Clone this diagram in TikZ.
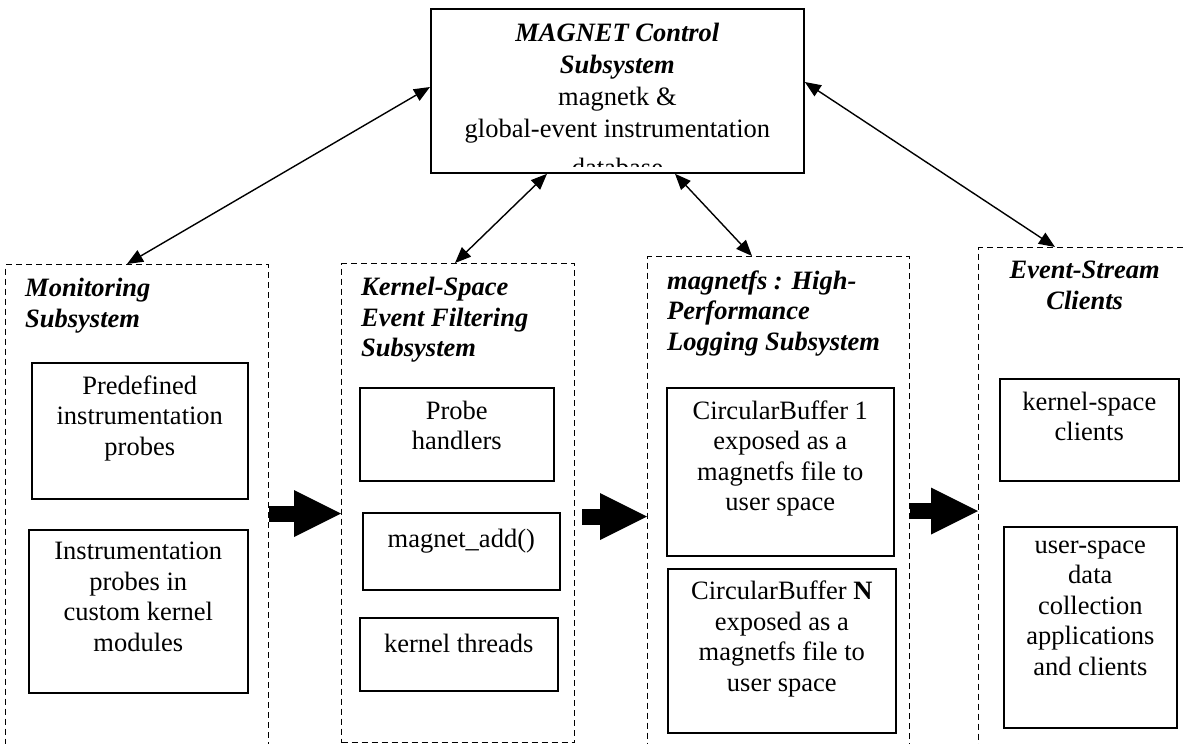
\documentclass[tikz,border=0pt]{standalone}
\usepackage{fontspec}
\setmainfont{Liberation Serif}
\usetikzlibrary{positioning,arrows.meta}
\newcommand{\bodyfont}{\fontsize{26.5}{30.5}\selectfont}
\newcommand{\ctrlfont}{\fontsize{26.5}{32.2}\selectfont}
\newcommand{\bi}[1]{\textbf{\textit{#1}}}
\tikzset{
  group/.style={draw, line width=1.3pt, dash pattern=on 6pt off 4pt, anchor=north west, inner sep=0pt},
  ibox/.style={draw, line width=1.6pt, anchor=north west, inner sep=0pt},
  itext/.style={font=\bodyfont, align=center, inner sep=0pt, anchor=north, execute at begin node=\strut},
  gtitle/.style={font=\bodyfont\bfseries\itshape, align=left, inner sep=0pt, execute at begin node=\strut},
  link/.style={line width=1.4pt, {Triangle[length=16pt,width=13pt]}-{Triangle[length=16pt,width=13pt]}},
  flow/.style={line width=16pt, -{Triangle[length=47pt,width=47pt,line width=0pt]}}
}
\begin{document}
\begin{tikzpicture}[x=1pt,y=-1pt]
  \clip (0,0) rectangle (1186,744);

  % control box on top
  \node[ibox, line width=1.8pt, minimum width=373pt, minimum height=164pt] (ctrl) at (430,8) {};
  \begin{scope}
    \clip (ctrl.north west) rectangle ([yshift=7pt]ctrl.south east);
    \node[itext, font=\ctrlfont, below=14.5pt of ctrl.north] (ctrltxt)
      {\bi{MAGNET Control}\\\bi{Subsystem}\\magnetk \&\\global-event instrumentation\\[7pt]database};
  \end{scope}

  % the four subsystems
  \node[group, minimum width=263pt, minimum height=560pt] (mon) at (5,264) {};
  \node[group, minimum width=233pt, minimum height=479pt] (kern) at (341,263) {};
  \node[group, minimum width=262pt, minimum height=560pt] (logfs) at (647,256) {};
  \node[group, minimum width=212pt, minimum height=560pt] (clients) at (978,247) {};

  \node[gtitle, below right=14.2pt and 20pt of mon.north west] (montitle) {Monitoring\\Subsystem};
  \node[gtitle, below right=14.2pt and 20pt of kern.north west] (kerntitle) {Kernel-Space\\Event Filtering\\Subsystem};
  \node[gtitle, below right=14.2pt and 20pt of logfs.north west] (logfstitle) {magnetfs : High-\\Performance\\Logging Subsystem};
  \node[gtitle, align=center, below=14.2pt of clients.north] (clientstitle) {Event-Stream\\Clients};

  % monitoring
  \node[ibox, minimum width=216pt, minimum height=136pt] (pre) at (31,362) {};
  \node[itext, below=13.6pt of pre.north] (pretxt) {Predefined\\instrumentation\\probes};
  \node[ibox, minimum width=219pt, minimum height=163pt] (custom) at (28,529) {};
  \node[itext, below=12.8pt of custom.north] (customtxt) {Instrumentation\\probes in\\custom kernel\\modules};

  % filtering
  \node[ibox, minimum width=194pt, minimum height=93pt] (handlers) at (359,387) {};
  \node[itext, below=13.6pt of handlers.north] (handlerstxt) {Probe\\handlers};
  \node[ibox, minimum width=197pt, minimum height=77pt] (add) at (362,512) {};
  \node[itext, below=14.4pt of add.north] (addtxt) {magnet\_add()};
  \node[ibox, minimum width=198pt, minimum height=73pt] (threads) at (359,617) {};
  \node[itext, below=13.6pt of threads.north] (threadstxt) {kernel threads};

  % logging
  \node[ibox, minimum width=227pt, minimum height=168pt] (buf1) at (666,387) {};
  \node[itext, below=13.6pt of buf1.north] (buf1txt) {CircularBuffer 1\\exposed as a\\magnetfs file to\\user space};
  \node[ibox, minimum width=228pt, minimum height=164pt] (bufN) at (667,568) {};
  \node[itext, below=12.8pt of bufN.north] (bufNtxt) {CircularBuffer \textbf{N}\\exposed as a\\magnetfs file to\\user space};

  % clients
  \node[ibox, minimum width=179pt, minimum height=102pt] (kcl) at (999,378) {};
  \node[itext, below=13.6pt of kcl.north] (kcltxt) {kernel-space\\clients};
  \node[ibox, minimum width=173pt, minimum height=201pt] (ucl) at (1003,526) {};
  \node[itext, below=14.4pt of ucl.north] (ucltxt) {user-space\\data\\collection\\applications\\and clients};

  % links to the control subsystem
  \draw[link] (ctrl.west |- 0,87) -- (mon.north -| 127,0);
  \draw[link] (ctrl.south -| 547,0) -- (kern.north -| 455,0);
  \draw[link] (ctrl.south -| 675,0) -- (logfs.north -| 752,0);
  \draw[link] (ctrl.east |- 0,82) -- (clients.north -| 1055,0);

  % event flow
  \draw[flow] (mon.east |- 0,513.5) -- (kern.west |- 0,513.5);
  \draw[flow, shorten <=7pt] (kern.east |- 0,516.5) -- (logfs.west |- 0,516.5);
  \draw[flow] (logfs.east |- 0,511) -- (clients.west |- 0,511);
\end{tikzpicture}
\end{document}
